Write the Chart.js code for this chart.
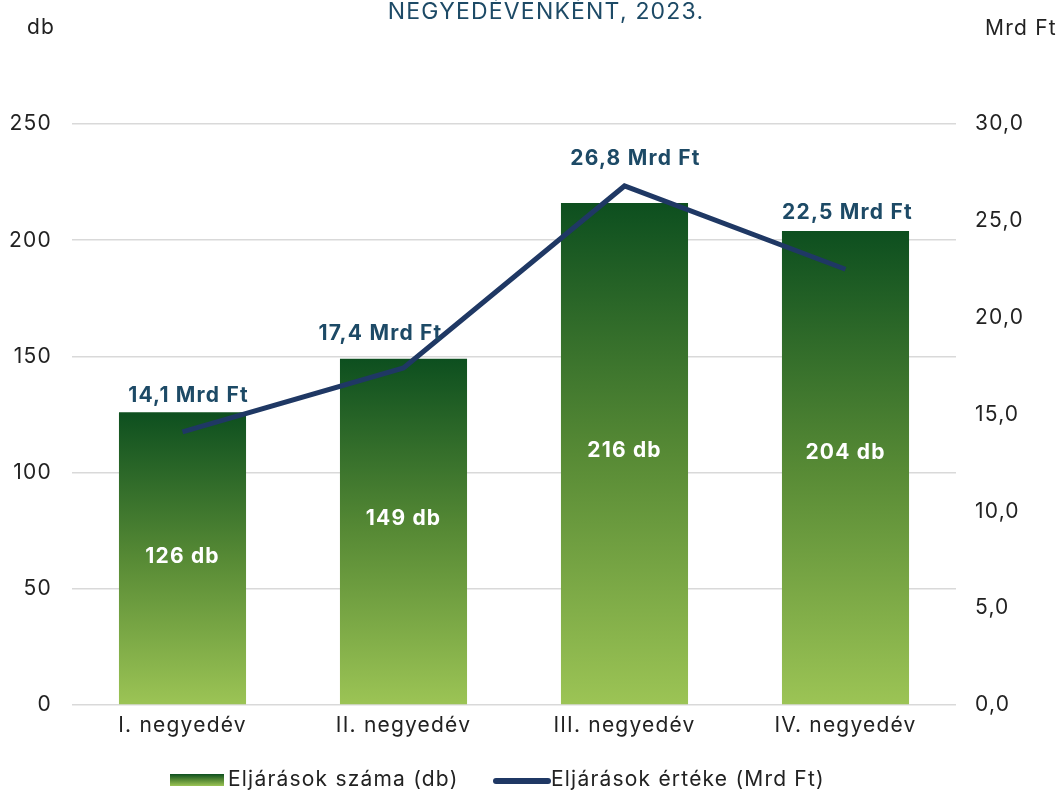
<!DOCTYPE html>
<html>
<head>
<meta charset="utf-8">
<script src="https://cdn.jsdelivr.net/npm/chart.js@4.4.0/dist/chart.umd.min.js"></script>
<style>
  html, body { margin: 0; padding: 0; background: #fff; }
  #wrap { width: 1064px; height: 792px; position: relative; }
</style>
</head>
<body>
<div id="wrap"><canvas id="myChart" width="1064" height="792"></canvas></div>
<script>
// data
var categories = ['I. negyedév', 'II. negyedév', 'III. negyedév', 'IV. negyedév'];
var countValues = [126, 149, 216, 204];          // db
var amountValues = [14.1, 17.4, 26.8, 22.5];     // Mrd Ft
var seriesNames = ['Eljárások száma (db)', 'Eljárások értéke (Mrd Ft)'];

// label nudges (px) - the original labels were placed by hand
var barLabelDy = [-2, -13, -3, -15];
var lineLabelDx = [6, -23, 11, 2];
var lineLabelDy = [4, -5, -7, 2];

var FONT = 'Inter, "Noto Sans", sans-serif';
var SPACING = '1.2px';
var textColor = '#222222';
var labelBlue = '#1d4a66';
var lineColor = '#1f3864';

function barGradient(ctx, top, bottom) {
  var g = ctx.createLinearGradient(0, top, 0, bottom);
  g.addColorStop(0, '#0d4f1f');
  g.addColorStop(0.5, '#578a35');
  g.addColorStop(1, '#9cc455');
  return g;
}

var extras = {
  id: 'extras',
  beforeUpdate: function(chart) { chart.ctx.letterSpacing = SPACING; },
  beforeDraw: function(chart) { chart.ctx.letterSpacing = SPACING; },
  afterDatasetsDraw: function(chart) {
    var c = chart.ctx;
    var y = chart.scales.y, y2 = chart.scales.y2, x = chart.scales.x;
    c.save();
    c.letterSpacing = SPACING;
    c.textAlign = 'center';
    c.textBaseline = 'middle';

    // white labels inside bars
    c.font = 'bold 21px ' + FONT;
    c.fillStyle = '#ffffff';
    for (var i = 0; i < countValues.length; i++) {
      var top = y.getPixelForValue(countValues[i]);
      var bot = y.getPixelForValue(0);
      c.fillText(countValues[i] + ' db', x.getPixelForValue(i), (top + bot) / 2 + barLabelDy[i]);
    }

    // value labels above bars / line
    c.fillStyle = labelBlue;
    for (var i = 0; i < amountValues.length; i++) {
      var barTop = y.getPixelForValue(countValues[i]);
      var linePt = y2.getPixelForValue(amountValues[i]);
      var ly = Math.min(barTop, linePt) - 20 + lineLabelDy[i];
      var txt = amountValues[i].toFixed(1).replace('.', ',') + ' Mrd Ft';
      c.fillText(txt, x.getPixelForValue(i) + lineLabelDx[i], ly);
    }

    // title, top cut off by the edge
    c.font = '23px ' + FONT;
    c.textBaseline = 'alphabetic';
    c.fillText('NEGYEDÉVENKÉNT, 2023.', 546, 18.5);

    // axis names
    c.fillStyle = textColor;
    c.font = '21px ' + FONT;
    c.textBaseline = 'middle';
    c.fillText('db', 41, 28);
    c.fillText('Mrd Ft', 1021, 29);

    // legend
    var ly2 = 780;
    c.fillStyle = barGradient(c, ly2 - 6, ly2 + 6);
    c.fillRect(170, ly2 - 6, 54, 12);
    c.textAlign = 'left';
    c.fillStyle = textColor;
    c.fillText(seriesNames[0], 228, ly2);
    c.strokeStyle = lineColor;
    c.lineWidth = 6;
    c.lineCap = 'round';
    c.beginPath();
    c.moveTo(496, ly2 + 1);
    c.lineTo(548, ly2 + 1);
    c.stroke();
    c.fillText(seriesNames[1], 551, ly2);
    c.restore();
  }
};

var ctx = document.getElementById('myChart').getContext('2d');
var myChart = new Chart(ctx, {
  data: {
    labels: categories,
    datasets: [{
      type: 'line',
      label: seriesNames[1],
      data: amountValues,
      yAxisID: 'y2',
      borderColor: lineColor,
      borderWidth: 5,
      pointRadius: 0,
      tension: 0,
      order: 0
    }, {
      type: 'bar',
      label: seriesNames[0],
      data: countValues,
      yAxisID: 'y',
      categoryPercentage: 1,
      barPercentage: 0.575,
      order: 1,
      backgroundColor: function(context) {
        var chart = context.chart;
        if (!chart.chartArea) return '#578a35';
        var ys = chart.scales.y;
        var top = ys.getPixelForValue(context.raw);
        var bot = ys.getPixelForValue(0);
        return barGradient(chart.ctx, top, bot);
      }
    }]
  },
  options: {
    responsive: false,
    animation: false,
    layout: { padding: { top: 124, left: 0, right: 0, bottom: 0 } },
    plugins: {
      legend: { display: false },
      tooltip: { enabled: false }
    },
    scales: {
      x: {
        grid: { display: false, drawTicks: false },
        border: { display: false },
        ticks: { color: textColor, font: { family: FONT, size: 21 }, padding: 8 },
        afterFit: function(scale) { scale.height = 87; }
      },
      y: {
        position: 'left',
        min: 0, max: 250,
        ticks: { stepSize: 50, color: textColor, font: { family: FONT, size: 21 }, padding: 20 },
        grid: { color: '#d9d9d9', lineWidth: 1.5, drawTicks: false },
        border: { display: false },
        afterFit: function(scale) { scale.width = 72; }
      },
      y2: {
        position: 'right',
        min: 0, max: 30,
        ticks: {
          stepSize: 5, color: textColor, font: { family: FONT, size: 21 }, padding: 19,
          callback: function(v) { return v.toFixed(1).replace('.', ','); }
        },
        grid: { display: false, drawTicks: false },
        border: { display: false },
        afterFit: function(scale) { scale.width = 108; }
      }
    }
  },
  plugins: [extras]
});
</script>
</body>
</html>
